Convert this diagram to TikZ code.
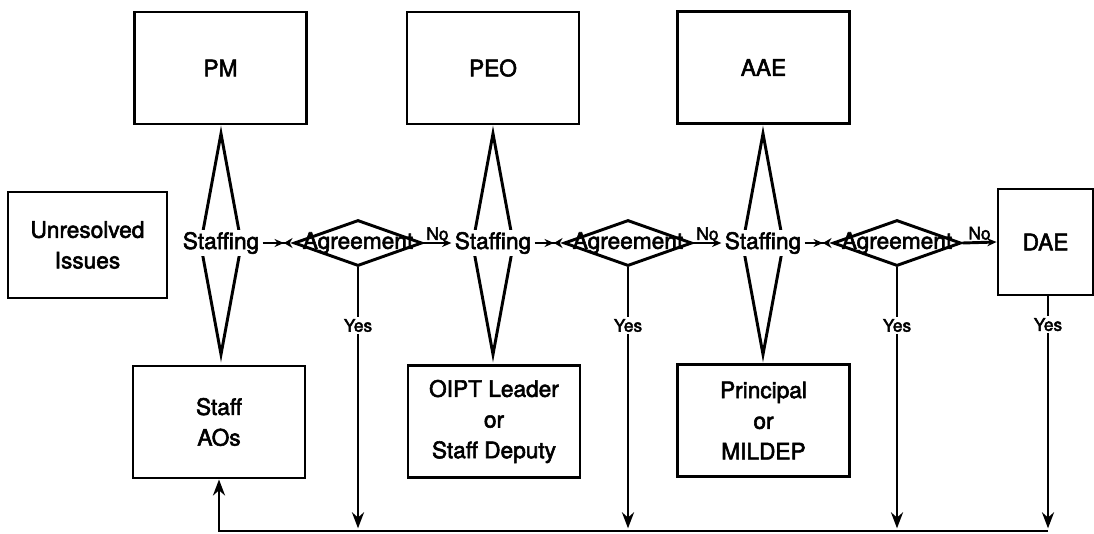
\documentclass[tikz,border=0pt]{standalone}
\usepackage{fontspec}
\setmainfont{TeX Gyre Heros}[FakeBold=2.5]
\usetikzlibrary{arrows.meta,shapes.geometric}

\begin{document}
\begin{tikzpicture}[
x=0.75pt, y=-0.75pt,
line width=2.2pt,
font=\fontsize{17}{23}\selectfont,
box/.style={draw, rectangle, align=center, minimum width=129pt, minimum height=84pt, inner sep=0pt},
spindle/.style={draw, diamond, minimum width=31.5pt, minimum height=166.5pt, inner sep=0pt},
agree/.style={draw, diamond, minimum width=96pt, minimum height=34.5pt, inner sep=0pt},
stafftext/.style={fill=white, inner sep=1.5pt},
flow/.style={-{Stealth[length=7pt,width=6pt]}},
flowdown/.style={-{Stealth[length=12pt,width=9pt]}, shorten >=2pt},
meet/.style={-{Stealth[length=7pt,width=6pt] Stealth[length=6.5pt,width=7.5pt,reversed]}},
nolabel/.style={font=\fontsize{13}{15}\selectfont, inner sep=1pt, above},
yeslabel/.style={font=\fontsize{13}{15}\selectfont, inner sep=1.5pt, fill=white}
]
    \useasboundingbox (0,0) rectangle (1094,533);

    % Upper row
    \node[box] (pm) at (220.5,68) {PM};
    \node[box] (peo) at (493,68) {PEO};
    \node[box] (aae) at (763.5,67.5) {AAE};

    % Lower row
    \node[box] (staff) at (219,422) {Staff\\AOs};
    \node[box] (oipt) at (494,421.5) {OIPT Leader\\or\\Staff Deputy};
    \node[box] (princ) at (763.5,420.5) {Principal\\or\\MILDEP};

    % Start and end
    \node[box, minimum width=119.25pt, minimum height=79.5pt] (unres) at (87.5,245) {Unresolved\\Issues};
    \node[box, minimum width=71.25pt, minimum height=79.5pt] (dae) at (1045.5,242) {DAE};

    % Staffing
    \node[spindle] (sp1) at (221,244) {};
    \node[spindle] (sp2) at (493,244) {};
    \node[spindle] (sp3) at (763,244) {};
    \node[stafftext] (st1) at (221,243) {Staffing};
    \node[stafftext] (st2) at (493,243) {Staffing};
    \node[stafftext] (st3) at (763,243) {Staffing};

    % Agreement
    \node[agree, label=center:Agreement] (ag1) at (358,243) {};
    \node[agree, label=center:Agreement] (ag2) at (628,243) {};
    \node[agree, label=center:Agreement] (ag3) at (897,243) {};

    \draw[meet] (st1.east) -- (ag1.west);
    \draw[meet] (st2.east) -- (ag2.west);
    \draw[meet] (st3.east) -- (ag3.west);

    \draw[flow] (ag1.east) -- node[nolabel]{No} (st2.west);
    \draw[flow] (ag2.east) -- node[nolabel]{No} (st3.west);
    \draw[flow] (ag3.east) -- node[nolabel]{No} (dae.west);

    % Back to the staff
    \coordinate (b1) at (358,531);
    \coordinate (b2) at (628,531);
    \coordinate (b3) at (897,531);
    \coordinate (b4) at (1048,531);

    \draw[flowdown] (ag1.south) -- node[yeslabel, pos=0.22]{Yes} (b1);
    \draw[flowdown] (ag2.south) -- node[yeslabel, pos=0.22]{Yes} (b2);
    \draw[flowdown] (ag3.south) -- node[yeslabel, pos=0.22]{Yes} (b3);
    \draw[flowdown] (dae.south -| b4) -- node[yeslabel, pos=0.12]{Yes} (b4);

    \draw[flowdown, shorten >=0pt] (b4) -| (staff.south);

\end{tikzpicture}
\end{document}
